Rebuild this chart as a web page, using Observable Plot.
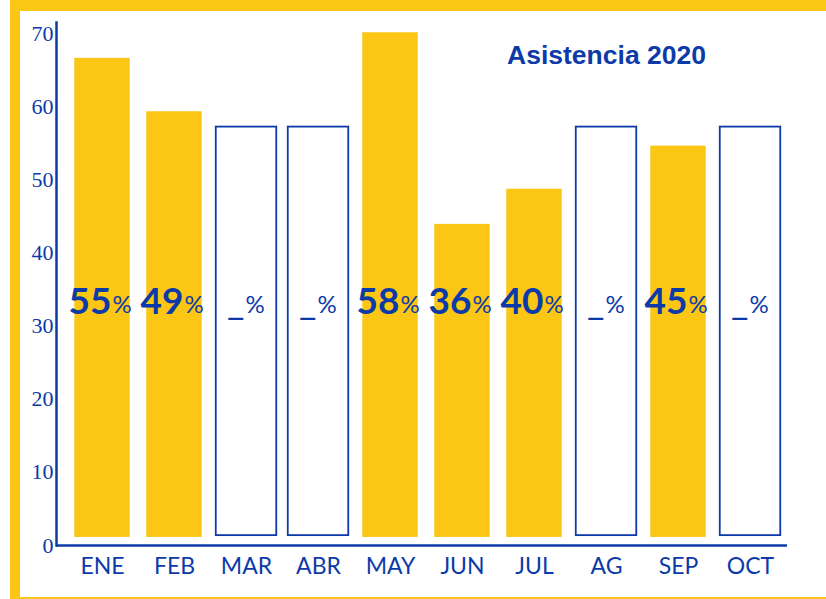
<!DOCTYPE html>
<html><head><meta charset="utf-8">
<script src="https://cdn.jsdelivr.net/npm/d3@7"></script>
<script src="https://cdn.jsdelivr.net/npm/@observablehq/plot@0.6"></script>
<style>
html,body{margin:0;padding:0;background:#fff;}
#frame{position:absolute;left:10px;top:0;width:816px;height:599px;background:#fcc614;}
#inner{position:absolute;left:10px;top:11px;width:806px;height:586px;background:#fff;}
</style></head><body><div id="frame"><div id="inner"></div></div>
<script>
const months = ["ENE","FEB","MAR","ABR","MAY","JUN","JUL","AG","SEP","OCT"];
const values = [66.6, 59.3, 57.2, 57.2, 70.1, 43.9, 48.7, 57.2, 54.6, 57.2];
const pctLabels = ["55","49","_","_","58","36","40","_","45","_"];
const yTicks = [0,10,20,30,40,50,60,70];
const title = "Asistencia 2020";
const pctSign = "%";

const BLUE = "#0d3aa9", YELLOW = "#fcc614";
const data = months.map((m,i)=>({month:m, value:values[i], label:pctLabels[i], reported: pctLabels[i] !== "_"}));
const filled = data.filter(d=>d.reported);
const empty = data.filter(d=>!d.reported);

const chart = Plot.plot({
  width: 806, height: 586,
  marginTop: 11, marginLeft: 36, marginRight: 39, marginBottom: 52,
  style: {background: "transparent", overflow: "visible"},
  x: {domain: months, range: [43.75, 768.75], padding: 0},
  y: {domain: [0, 71.5]},
  marks: [
    Plot.barY(filled, {x: "month", y1: 1.1, y2: "value", fill: YELLOW, insetLeft: 8.25, insetRight: 8.25}),
    Plot.barY(empty, {x: "month", y1: 1.35, y2: "value", fill: "white", stroke: BLUE, strokeWidth: 1.8, insetLeft: 5.75, insetRight: 5.75}),
    Plot.ruleY([0], {stroke: BLUE, strokeWidth: 2.5}),
    Plot.frame({anchor: "left", stroke: BLUE, strokeWidth: 2.5}),
    Plot.axisY({ticks: yTicks, tickSize: 0, tickPadding: 3, fontSize: 22, fontFamily: "Liberation Serif", fill: BLUE, color: BLUE, label: null}),
    Plot.axisX({tickSize: 0, tickPadding: 12, fontSize: 23, fontFamily: "Lato", fill: BLUE, color: BLUE, label: null}),
    Plot.text(filled, {x: "month", text: "label", frameAnchor: "middle", lineAnchor: "middle", textAnchor: "end", dx: 9, dy: 17.8, fontSize: 37, fontWeight: "bold", fontFamily: "Lato", fill: BLUE}),
    Plot.text(filled, {x: "month", text: () => pctSign, frameAnchor: "middle", lineAnchor: "middle", textAnchor: "start", dx: 10, dy: 21.8, fontSize: 24, fontFamily: "Lato", fill: BLUE}),
    Plot.text(empty, {x: "month", text: "label", frameAnchor: "middle", lineAnchor: "middle", textAnchor: "end", dx: -2, dy: 18.3, fontSize: 38, fontFamily: "Lato", fill: BLUE}),
    Plot.text(empty, {x: "month", text: () => pctSign, frameAnchor: "middle", lineAnchor: "middle", textAnchor: "start", dx: -1, dy: 21.8, fontSize: 24, fontFamily: "Lato", fill: BLUE}),
    Plot.text([title], {frameAnchor: "top", lineAnchor: "middle", dx: 184.5, dy: 33, fontSize: 26.5, fontWeight: "bold", fontFamily: "Liberation Sans", fill: BLUE})
  ]
});
document.getElementById("inner").appendChild(chart);
</script></body></html>
